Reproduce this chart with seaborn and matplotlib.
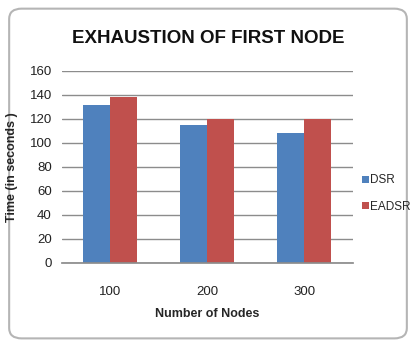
import matplotlib
matplotlib.use("Agg")
import matplotlib.pyplot as plt
from matplotlib.patches import FancyBboxPatch
import seaborn as sns
import pandas as pd

categories = ["100", "200", "300"]
dsr = [131, 115, 108]
eadsr = [138, 120, 120]
series_names = ["DSR", "EADSR"]
y_ticks = [0, 20, 40, 60, 80, 100, 120, 140, 160]

df = pd.DataFrame({
    "Nodes": categories * 2,
    "Time": dsr + eadsr,
    "Series": [series_names[0]] * len(categories) + [series_names[1]] * len(categories),
})

sns.set_theme(style="white")
plt.rcParams['font.family'] = ['Liberation Sans', 'DejaVu Sans']

fig = plt.figure(figsize=(4.16, 3.46), dpi=100)
fig.patch.set_facecolor("white")
border = FancyBboxPatch((0.022, 0.022), 0.956, 0.953,
                        boxstyle="round,pad=0,rounding_size=0.03",
                        transform=fig.transFigure, facecolor="white",
                        edgecolor="#b5b5b5", linewidth=1.5, zorder=-1)
fig.patches.append(border)

ax = fig.add_axes([0.148, 0.2408, 0.700, 0.5549])
ax.set_facecolor("none")
palette = {"DSR": "#4F81BD", "EADSR": "#C0504D"}
sns.barplot(data=df, x="Nodes", y="Time", hue="Series", palette=palette,
            width=0.56, saturation=1, linewidth=0, ax=ax, legend=True)

ax.set_ylim(0, 160)
ax.set_yticks(y_ticks)
ax.set_xlim(-0.5, 2.5)
ax.yaxis.grid(True, color="#8c8c8c", linewidth=1)
ax.set_axisbelow(True)
for s in ["top", "right", "left"]:
    ax.spines[s].set_visible(False)
ax.spines["bottom"].set_color("#8c8c8c")
ax.tick_params(axis="y", length=0, pad=7, labelsize=9.5, colors="#222222")
ax.tick_params(axis="x", length=0, pad=17, labelsize=9.5, colors="#222222")
ax.set_xlabel("Number of Nodes", fontsize=9, fontweight="bold", labelpad=7)
ax.set_ylabel("Time (in seconds )", fontsize=9, fontweight="bold", labelpad=8)

leg = ax.legend(loc="center left", bbox_to_anchor=(1.03, 0.36), frameon=False,
                fontsize=8.5, handlelength=0.6, handleheight=0.6,
                handletextpad=0.15, labelspacing=1.2, borderpad=0,
                borderaxespad=0)

fig.text(0.5, 0.89, "EXHAUSTION OF FIRST NODE", ha="center", va="center",
         fontsize=13.5, fontweight="bold", color="#111111")

fig.savefig("out.png", dpi=100)
